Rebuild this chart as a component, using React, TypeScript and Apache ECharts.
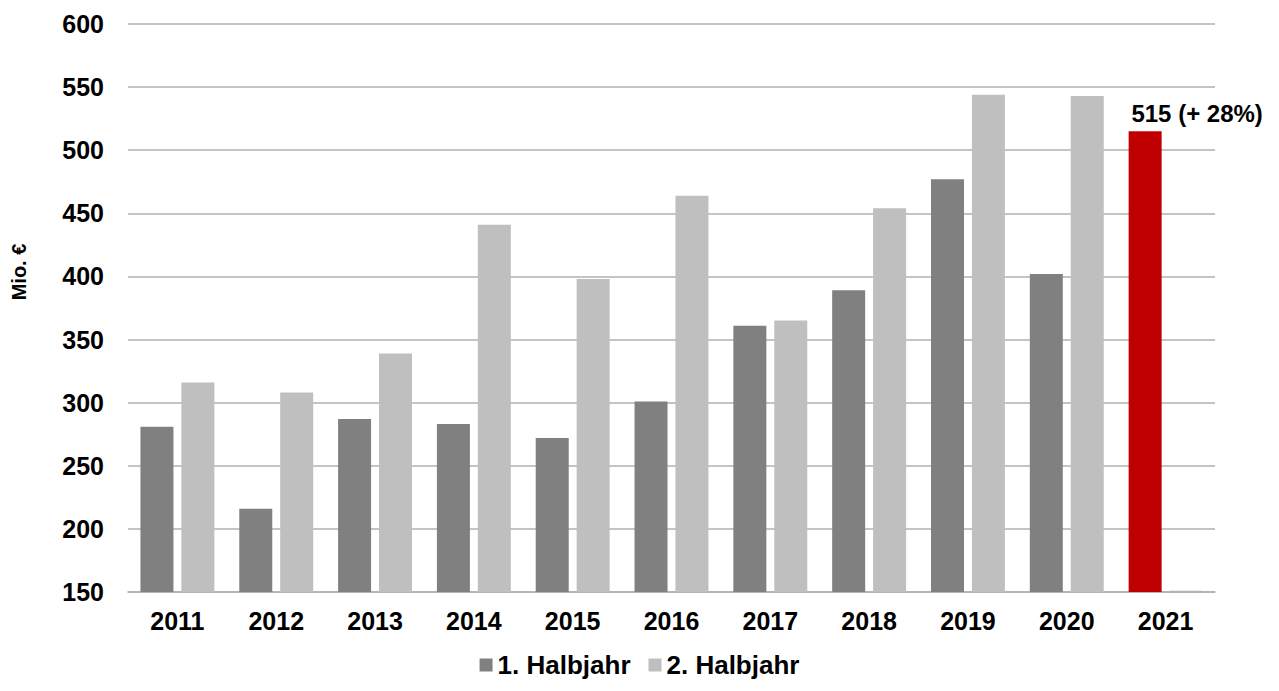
import React, { useEffect, useRef } from "react";
import * as echarts from "echarts";

// Half-year revenue, Mio. €
const years = ["2011", "2012", "2013", "2014", "2015", "2016", "2017", "2018", "2019", "2020", "2021"];
const firstHalf = [281, 216, 287, 283, 272, 301, 361, 389, 477, 402, 515];
const secondHalf = [316, 308, 339, 441, 398, 464, 365, 454, 544, 543, 151];

const seriesNames = ["1. Halbjahr", "2. Halbjahr"];
const yMin = 150;
const yMax = 600;
const yStep = 50;
const yAxisTitle = "Mio. €";
const highlightLabel = "515 (+ 28%)";

const FONT = "'Liberation Sans', Arial, Helvetica, sans-serif";
const DARK_GREY = "#808080";
const LIGHT_GREY = "#bfbfbf";
const RED = "#c00000";
const GRID_GREY = "#b0b0b0";

export default function App() {
  const ref = useRef<HTMLDivElement>(null);

  useEffect(() => {
    if (!ref.current) return;
    const chart = echarts.init(ref.current, null, { renderer: "svg" });
    const last = years.length - 1;

    const firstData = firstHalf.map((v, i) =>
      i === last
        ? {
            value: v,
            itemStyle: { color: RED },
            label: {
              show: true,
              position: "top",
              distance: 6,
              offset: [52, 0],
              formatter: highlightLabel,
              fontFamily: FONT,
              fontWeight: "bold",
              fontSize: 24,
              color: "#000",
            },
          }
        : v
    );

    // the still-open second half of the last year sits flat on the baseline
    const secondData = secondHalf.map((v, i) =>
      i === last
        ? { value: v, itemStyle: { color: LIGHT_GREY, borderColor: "#b4b4b4", borderWidth: 1 } }
        : v
    );

    chart.setOption({
      animation: false,
      backgroundColor: "#fff",
      grid: { left: 128, right: 64, top: 24, bottom: 99, containLabel: false },
      legend: {
        data: seriesNames,
        bottom: 8,
        left: "center",
        icon: "rect",
        itemWidth: 13,
        itemHeight: 13,
        itemGap: 18,
        itemStyle: { borderWidth: 0 },
        textStyle: { fontFamily: FONT, fontWeight: "bold", fontSize: 26, color: "#000" },
      },
      xAxis: {
        type: "category",
        data: years,
        axisLine: { show: true, lineStyle: { color: GRID_GREY, width: 1.5 } },
        axisTick: { show: false },
        axisLabel: {
          margin: 16,
          fontFamily: FONT,
          fontWeight: "bold",
          fontSize: 25,
          color: "#000",
        },
      },
      yAxis: {
        type: "value",
        min: yMin,
        max: yMax,
        interval: yStep,
        axisLine: { show: false },
        axisTick: { show: false },
        splitLine: { lineStyle: { color: GRID_GREY, width: 1.5 } },
        axisLabel: {
          margin: 24,
          fontFamily: FONT,
          fontWeight: "bold",
          fontSize: 25,
          color: "#000",
        },
      },
      graphic: [
        {
          type: "text",
          x: 19,
          y: 272,
          rotation: Math.PI / 2,
          style: {
            text: yAxisTitle,
            fontFamily: FONT,
            fontWeight: "bold",
            fontSize: 20,
            fill: "#000",
            align: "center",
            verticalAlign: "middle",
          },
        },
      ],
      series: [
        {
          name: seriesNames[0],
          type: "bar",
          data: firstData,
          barWidth: 33,
          barGap: "24%",
          itemStyle: { color: DARK_GREY },
        },
        {
          name: seriesNames[1],
          type: "bar",
          data: secondData,
          barWidth: 33,
          itemStyle: { color: LIGHT_GREY },
        },
      ],
    });

    return () => chart.dispose();
  }, []);

  return (
    <div
      ref={ref}
      style={{ position: "absolute", left: 0, top: 0, width: 1279, height: 691 }}
    />
  );
}
